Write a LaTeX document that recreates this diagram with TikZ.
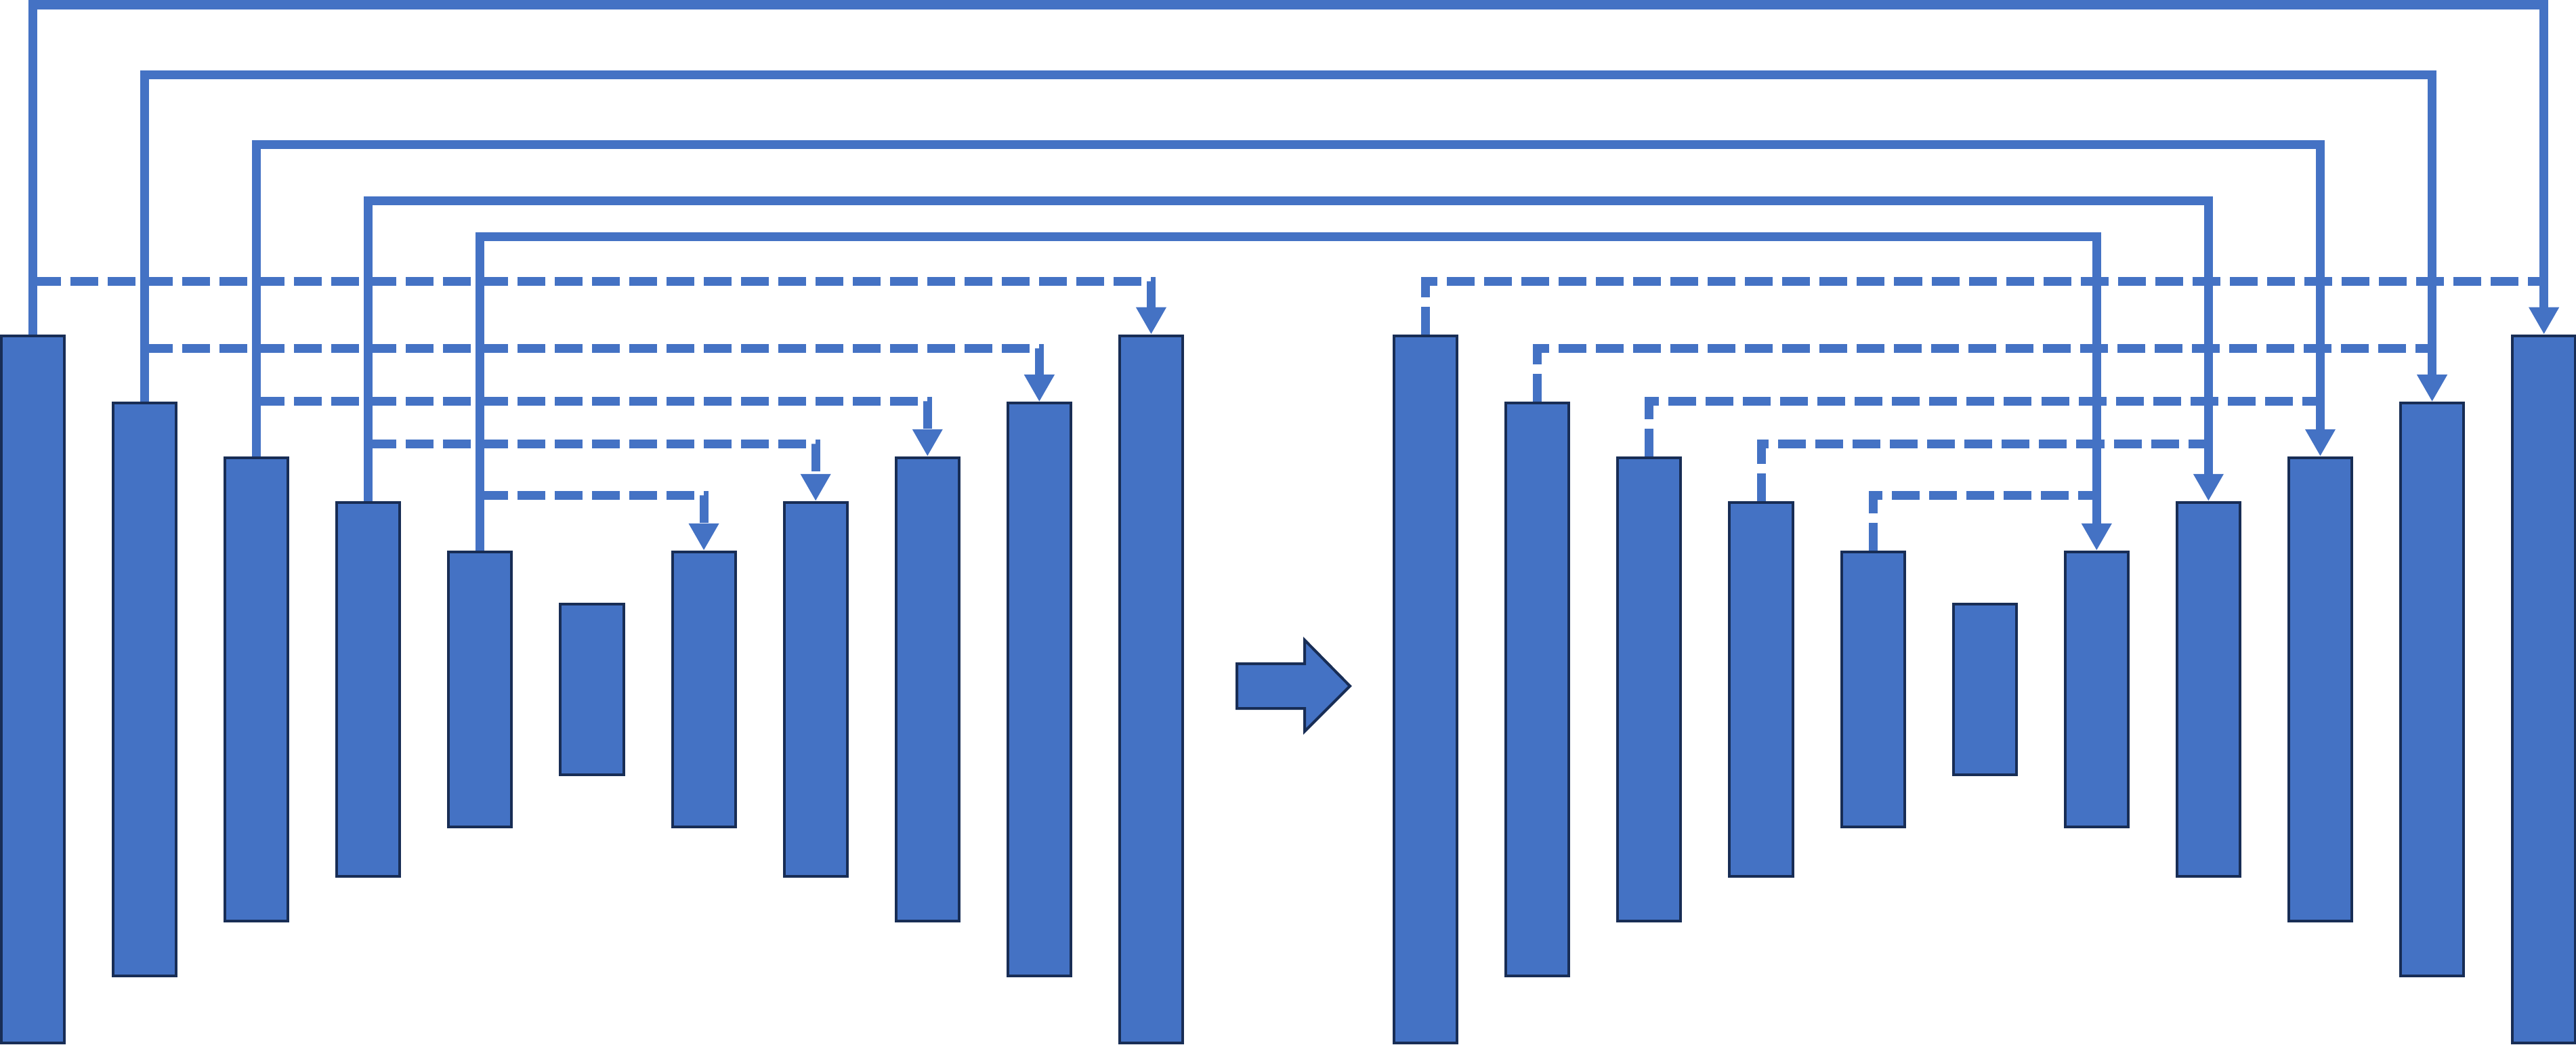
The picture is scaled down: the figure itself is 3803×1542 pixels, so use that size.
\documentclass[tikz,border=0pt]{standalone}
\usepackage{tikz}
\usetikzlibrary{arrows.meta, positioning}
\definecolor{barblue}{RGB}{68, 114, 196}
\definecolor{barline}{RGB}{24, 45, 85}

\begin{document}
\begin{tikzpicture}[
    x=0.01cm, y=-0.01cm,
    >={Triangle[width=4.2mm, length=4mm]},
    featbox/.style={rectangle, draw=barline, fill=barblue, line width=0.4mm, minimum width=9.3mm, inner sep=0pt},
    skipline/.style={draw=barblue, line width=1.3mm},
    dashline/.style={skipline, dash pattern=on 4.1mm off 1.4mm},
]
    \useasboundingbox (0,0) rectangle (3803,1542);

    \node[featbox, minimum height=104.4mm] (b1) at (48.5,1018) {};
    \node[featbox, minimum height=84.5mm, right=6.8mm of b1] (b2) {};
    \node[featbox, minimum height=68.4mm, right=6.8mm of b2] (b3) {};
    \node[featbox, minimum height=55.2mm, right=6.8mm of b3] (b4) {};
    \node[featbox, minimum height=40.6mm, right=6.8mm of b4] (b5) {};
    \node[featbox, minimum height=25.1mm, right=6.8mm of b5] (b6) {};
    \node[featbox, minimum height=40.6mm, right=6.8mm of b6] (b7) {};
    \node[featbox, minimum height=55.2mm, right=6.8mm of b7] (b8) {};
    \node[featbox, minimum height=68.4mm, right=6.8mm of b8] (b9) {};
    \node[featbox, minimum height=84.5mm, right=6.8mm of b9] (b10) {};
    \node[featbox, minimum height=104.4mm, right=6.8mm of b10] (b11) {};

    \node[featbox, minimum height=104.4mm, right=30.8mm of b11] (r1) {};
    \node[featbox, minimum height=84.5mm, right=6.8mm of r1] (r2) {};
    \node[featbox, minimum height=68.4mm, right=6.8mm of r2] (r3) {};
    \node[featbox, minimum height=55.2mm, right=6.8mm of r3] (r4) {};
    \node[featbox, minimum height=40.6mm, right=6.8mm of r4] (r5) {};
    \node[featbox, minimum height=25.1mm, right=6.8mm of r5] (r6) {};
    \node[featbox, minimum height=40.6mm, right=6.8mm of r6] (r7) {};
    \node[featbox, minimum height=55.2mm, right=6.8mm of r7] (r8) {};
    \node[featbox, minimum height=68.4mm, right=6.8mm of r8] (r9) {};
    \node[featbox, minimum height=84.5mm, right=6.8mm of r9] (r10) {};
    \node[featbox, minimum height=104.4mm, right=6.8mm of r10] (r11) {};

    % left net to right net
    \draw[featbox] (1826,980) -- (1926,980) -- (1926,945) -- (1993,1013) -- (1926,1080) -- (1926,1046) -- (1826,1046) -- cycle;

    \draw[skipline, ->] (b1.north) -- (b1.north |- 0,7) -| (r11.north);
    \draw[skipline, ->] (b2.north) -- (b2.north |- 0,110) -| (r10.north);
    \draw[skipline, ->] (b3.north) -- (b3.north |- 0,213) -| (r9.north);
    \draw[skipline, ->] (b4.north) -- (b4.north |- 0,296) -| (r8.north);
    \draw[skipline, ->] (b5.north) -- (b5.north |- 0,349) -| (r7.north);

    \draw[dashline, ->] (b1.north |- 0,415) -| (b11.north);
    \draw[dashline, ->] (b2.north |- 0,514) -| (b10.north);
    \draw[dashline, ->] (b3.north |- 0,592) -| (b9.north);
    \draw[dashline, ->] (b4.north |- 0,655) -| (b8.north);
    \draw[dashline, ->] (b5.north |- 0,731) -| (b7.north);

    \draw[dashline] (r1.north) |- (r11.north |- 0,415);
    \draw[dashline] (r2.north) |- (r10.north |- 0,514);
    \draw[dashline] (r3.north) |- (r9.north |- 0,592);
    \draw[dashline] (r4.north) |- (r8.north |- 0,655);
    \draw[dashline] (r5.north) |- (r7.north |- 0,731);
\end{tikzpicture}
\end{document}
